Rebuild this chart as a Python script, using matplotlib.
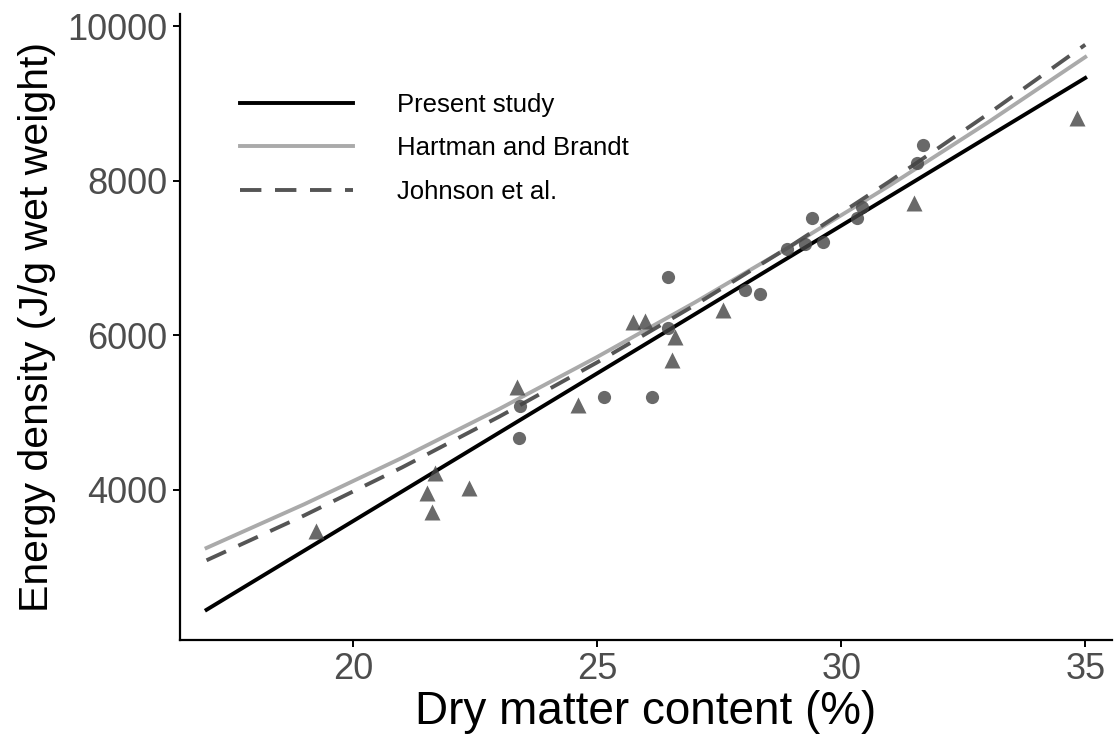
import matplotlib

matplotlib.use("Agg")
import matplotlib.pyplot as plt

plt.rcParams["font.family"] = ["Liberation Sans", "DejaVu Sans"]

# measured samples (dry matter %, energy density J/g wet weight)
tri_dm = [19.25, 21.52, 21.62, 21.68, 22.38, 23.36, 24.6, 25.74, 25.98, 26.54, 26.6, 27.58, 31.5, 34.84]
tri_ed = [3470, 3960, 3715, 4220, 4025, 5330, 5100, 6170, 6190, 5680, 5980, 6330, 7710, 8810]
circ_dm = [23.42, 23.4, 25.14, 26.13, 26.46, 26.46, 28.03, 28.34, 28.9, 29.26, 29.4, 29.63, 30.33, 30.43, 31.56, 31.68]
circ_ed = [5087, 4670, 5200, 5200, 6755, 6100, 6590, 6540, 7120, 7180, 7520, 7210, 7520, 7660, 8230, 8460]

# regression curves
present_dm = [17, 35]
present_ed = [2450, 9330]
curve_dm = [17, 19, 21, 23, 25, 27, 29, 31, 33, 35]
hartman_ed = [3250, 3815, 4414, 5049, 5720, 6425, 7166, 7941, 8752, 9600]
johnson_ed = [3090, 3670, 4290, 4950, 5650, 6390, 7170, 7995, 8860, 9760]

fig = plt.figure(figsize=(11.15, 7.38), dpi=100)
ax = fig.add_axes([0.1614, 0.1328, 0.836, 0.848])

ax.plot(present_dm, present_ed, color="black", lw=2.8, label="Present study", zorder=3)
ax.plot(curve_dm, hartman_ed, color="#aaaaaa", lw=2.8, label="Hartman and Brandt", zorder=2)
ax.plot(curve_dm, johnson_ed, color="#555555", lw=2.8, dashes=(5.5, 3.5), label="Johnson et al.", zorder=3)

ax.plot(circ_dm, circ_ed, "o", color="#444444", alpha=0.8, ms=9.5, mec="none", zorder=4)
ax.plot(tri_dm, tri_ed, "^", color="#444444", alpha=0.8, ms=11, mec="none", zorder=4)

ax.set_xlim(16.455, 35.55)
ax.set_ylim(2059, 10155)
ax.set_xticks([20, 25, 30, 35])
ax.set_yticks([4000, 6000, 8000, 10000])

for s in ["top", "right"]:
    ax.spines[s].set_visible(False)
for s in ["left", "bottom"]:
    ax.spines[s].set_linewidth(1.6)
ax.tick_params(axis="both", length=5, width=1.4, labelsize=26, labelcolor="#4d4d4d", pad=4)

ax.set_xlabel("Dry matter content (%)", fontsize=33, labelpad=2)
ax.set_ylabel("Energy density (J/g wet weight)", fontsize=29.5, labelpad=8)

leg = ax.legend(loc="upper left", bbox_to_anchor=(0.04, 0.911), frameon=False, fontsize=18.5,
                handlelength=4.4, handletextpad=1.7, labelspacing=0.75)

fig.savefig("out.png", dpi=100)
